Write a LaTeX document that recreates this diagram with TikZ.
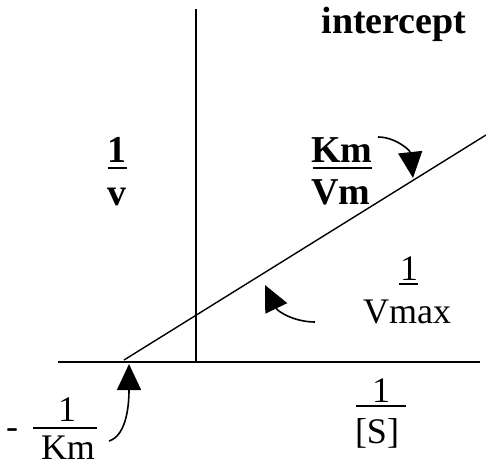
\documentclass[tikz,border=0pt]{standalone}
\usepackage{fontspec}
\setmainfont{Liberation Serif}
\usetikzlibrary{arrows.meta}
\begin{document}
\begin{tikzpicture}[x=1pt,y=-1pt,
  lbl/.style={anchor=base,inner sep=0pt,font=\fontsize{36}{40}\selectfont},
  blbl/.style={lbl,font=\fontsize{38}{42}\selectfont\bfseries},
  axis/.style={line width=2pt},
  plot/.style={line width=1.4pt},
  bar/.style={line width=1.3pt},
  tbar/.style={line width=2.7pt},
  pointer/.style={line width=1.6pt,-{Triangle[length=26pt,width=24pt]}}]
\useasboundingbox (0,0) rectangle (486,466);
% axes
\coordinate (ytop) at (196,9);
\coordinate (ybot) at (196,362);
\coordinate (xl) at (58,362);
\coordinate (xr) at (480,362);
\draw[axis] (ytop) -- (ybot);
\draw[axis] (xl) -- (xr);
% plot line
\coordinate (la) at (124,360);
\coordinate (lb) at (486,135);
\draw[plot] (la) -- (lb);
% labels
\node[blbl] (intercept) at (394,33) {intercept};
\node[blbl] (onev) at (117,162) {1};
\draw[tbar] (108,168) -- (127,168);
\node[blbl] (v) at (117,205) {v};
\node[blbl] (km) at (342,162) {Km};
\draw[tbar] (313,168) -- (372,168);
\node[blbl] (vm) at (341,204) {Vm};
\node[lbl] (onevmax) at (409,280) {1};
\draw[bar] (399,284) -- (418,284);
\node[lbl] (vmax) at (407,323) {Vmax};
\node[lbl] (ones) at (381,402) {1};
\draw[bar] (356,406) -- (406,406);
\node[lbl] (s) at (377,443) {[S]};
\node[lbl] (minus) at (12,438) {-};
\node[lbl] (onekm) at (67,421) {1};
\draw[bar] (33,428) -- (97,428);
\node[lbl] (kmb) at (68,459) {Km};
% pointers
\coordinate (p1s) at (378,137);
\coordinate (p1e) at (413,178);
\draw[pointer] (p1s) .. controls (395,137) and (410,150) .. (p1e);
\coordinate (p2s) at (315,322);
\coordinate (p2e) at (265,285);
\draw[pointer] (p2s) .. controls (295,322) and (278,312) .. (p2e);
\coordinate (p3s) at (109,441);
\coordinate (p3e) at (129,364);
\draw[pointer] (p3s) .. controls (125,436) and (129,410) .. (p3e);
\end{tikzpicture}
\end{document}
